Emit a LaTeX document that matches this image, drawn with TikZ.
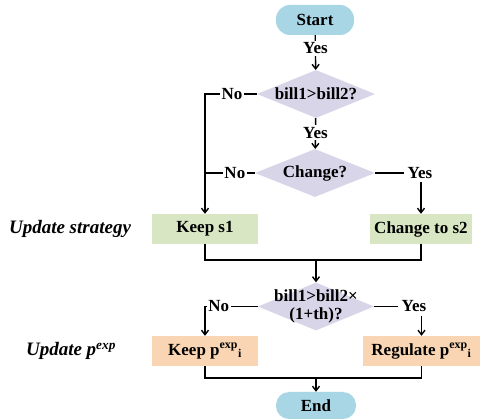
\documentclass[tikz,border=0pt]{standalone}
\usepackage{fontspec}
\setmainfont{Liberation Serif}
\usetikzlibrary{shapes.geometric,arrows.meta}
\definecolor{termblue}{RGB}{168,214,228}
\definecolor{dialav}{RGB}{217,213,232}
\definecolor{boxgreen}{RGB}{216,230,196}
\definecolor{boxorange}{RGB}{249,213,180}
\begin{document}
\begin{tikzpicture}[x=1pt,y=-1pt,
  font=\fontsize{17}{18}\selectfont\bfseries,
  term/.style={fill=termblue, rounded corners=14pt, minimum width=78pt, minimum height=30pt, inner sep=0pt},
  dia/.style={diamond, fill=dialav, inner sep=0pt},
  procg/.style={fill=boxgreen, minimum height=30pt, inner sep=0pt},
  proco/.style={fill=boxorange, minimum height=30pt, inner sep=0pt},
  lbl/.style={fill=white, inner sep=1.5pt},
  side/.style={font=\fontsize{19}{20}\selectfont\bfseries\itshape},
  ln/.style={line width=1.4pt},
  arr/.style={line width=1.4pt, -{Straight Barb[length=4.5pt,width=7pt]}}]
\useasboundingbox (0,0) rectangle (485,419);

\node[term] (start) at (315,20) {Start};
\node[dia, minimum width=118pt, minimum height=48pt, label=center:{bill1>bill2?}] (d1) at (316,94) {};
\node[dia, minimum width=120pt, minimum height=48pt, label=center:{Change?}] (d2) at (315,173) {};
\node[procg, minimum width=106pt] (k1) at (205,229) {Keep s1};
\node[procg, minimum width=102pt] (s2) at (421,229) {Change to s2};
\node[dia, minimum width=116pt, minimum height=48pt, label={[align=center,font=\fontsize{17}{18.5}\selectfont\bfseries]center:bill1>bill2×\\(1+th)?}] (d3) at (316,306.5) {};
\node[proco, minimum width=106pt] (k2) at (205,351) {Keep p\textsuperscript{exp}\textsubscript{i}};
\node[proco, minimum width=117pt] (reg) at (421.5,351) {Regulate p\textsuperscript{exp}\textsubscript{i}};
\node[term, minimum width=80pt, minimum height=27pt, rounded corners=13pt] (end) at (316,405.5) {End};

\node[side] (us) at (70,229) {Update strategy};
\node[side] (up) at (71,351) {Update p\textsuperscript{exp}};

% start -> d1
\draw[arr] (start) -- node[lbl,pos=0.38]{Yes} (d1);
% d1 -> d2
\draw[arr] (d1) -- node[lbl,pos=0.47]{Yes} (d2);
% No branches to keep s1
\draw[arr] (d1.west) -- node[lbl,pos=0.48]{No} (d1.west -| k1.north) -- (k1.north);
\draw[ln] (d2.west) -- node[lbl,pos=0.4]{No} (d2.west -| k1.north);
% Yes branch to change to s2
\node (yes2) at (420,173) {Yes};
\draw[ln] (d2.east) -- (yes2.west);
\draw[arr] (yes2.south -| s2.north) -- (s2.north);
% merge
\coordinate (m1) at (316,260);
\draw[ln] (k1.south) |- (m1) -| (s2.south);
\draw[arr] (m1) -- (d3.north);
% third decision
\draw[arr] (d3.west) -- node[lbl,pos=0.74]{No} (d3.west -| k2.north) -- (k2.north);
\node (yes3) at (414,306.5) {Yes};
\draw[ln] (d3.east) -- (yes3.west);
\draw[arr] (yes3.south -| reg.north) -- (reg.north);
% merge 2
\coordinate (m2) at (316,378);
\draw[ln] (k2.south) |- (m2) -| (reg.south);
\draw[arr] (m2) -- (end.north);
\end{tikzpicture}
\end{document}
